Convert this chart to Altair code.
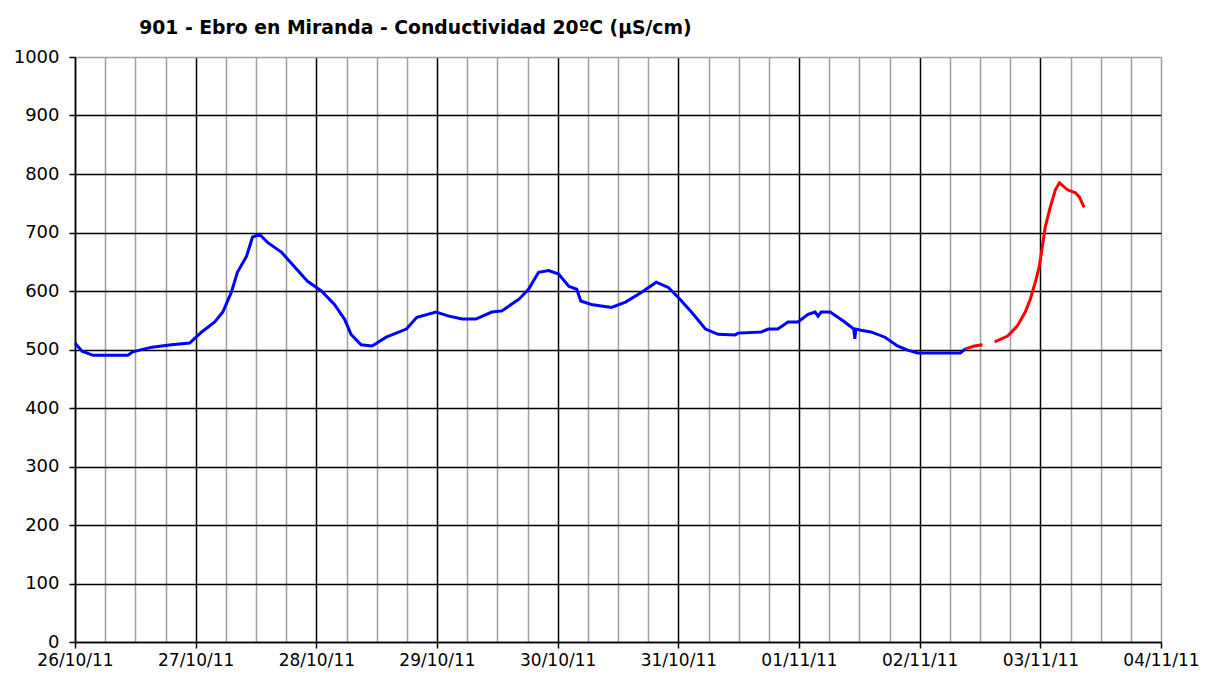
import altair as alt
import pandas as pd

TITLE = "901 - Ebro en Miranda - Conductividad 20ºC (µS/cm)"
START = pd.Timestamp("2011-10-26 00:00")
END = pd.Timestamp("2011-11-04 00:00")

# hours since 26/10/11 00:00 and conductivity values (µS/cm)
blue_hours = [0, 1.4, 3.6, 10.5, 11.5, 15.3, 19.2, 22.8, 25.2, 27.8, 29.4, 31.1, 32.3, 34.1, 35.3,
              36.7, 38.3, 41.1, 43.6, 46.2, 49.0, 51.6, 53.6, 54.9, 56.9, 59.1, 61.9, 65.9, 68.0,
              71.8, 74.4, 77.0, 79.7, 82.9, 84.9, 88.3, 90.2, 92.2, 94.2, 96.2, 98.2, 99.8, 100.6,
              102.7, 106.7, 109.5, 112.7, 115.6, 118.0, 120.0, 122.6, 125.4, 127.9, 131.3, 131.9,
              136.5, 137.9, 139.8, 141.8, 143.8, 145.8, 147.2, 147.8, 148.4, 150.2, 153.1, 154.9,
              155.1, 155.3, 156.3, 158.3, 161.1, 163.6, 165.6, 167.6, 176.1, 177.1]
blue_values = [511, 497, 490, 490, 496, 504, 508, 511, 530, 547, 564, 598, 632, 659, 692,
               697, 683, 666, 642, 617, 600, 577, 552, 526, 508, 506, 521, 535, 555,
               564, 557, 552, 552, 564, 566, 586, 603, 632, 635, 629, 608, 603, 583,
               577, 572, 581, 598, 615, 606, 589, 564, 535, 526, 525, 528,
               530, 535, 535, 547, 547, 560, 564, 557, 564, 564, 547, 535,
               518, 535, 533, 530, 521, 506, 499, 494, 494, 501]

red_hours_a = [177.1, 178.9, 180.5]
red_values_a = [501, 506, 508]
red_hours_b = [182.9, 185.5, 187.4, 189.0, 190.0, 191.0, 191.8, 192.4, 193.0, 194.0, 195.0,
               195.8, 197.4, 199.0, 199.8, 200.7]
red_values_b = [513, 523, 540, 564, 586, 615, 642, 676, 710, 744, 773, 785, 773, 768, 760, 743]

y_ticks = list(range(0, 1001, 100))

rows = []
for seg, series, hrs, vals in [
    ("b", "blue", blue_hours, blue_values),
    ("r1", "red", red_hours_a, red_values_a),
    ("r2", "red", red_hours_b, red_values_b),
]:
    for h, v in zip(hrs, vals):
        rows.append({"time": START + pd.to_timedelta(h, unit="h"), "value": v,
                     "series": series, "segment": seg})
df = pd.DataFrame(rows)

x_values = []
t = START
while t <= END:
    x_values.append(alt.DateTime(year=t.year, month=t.month, date=t.day, hours=t.hour))
    t += pd.Timedelta(hours=6)

GRAY = "#A0A0A0"

x_axis = alt.Axis(
    values=x_values,
    title=None,
    labelExpr="hours(datum.value) == 0 ? timeFormat(datum.value, '%d/%m/%y') : ''",
    labelOverlap=False,
    labelFlush=False,
    labelFont="DejaVu Sans",
    labelFontSize=17,
    labelColor="#000000",
    labelPadding=4,
    tickSize=6,
    tickWidth=1.5,
    tickColor={"condition": {"test": "hours(datum.value) == 0", "value": "#000000"},
               "value": "transparent"},
    domainColor="#000000",
    domainWidth=1.5,
    grid=True,
    gridWidth=1.5,
    gridColor={"condition": {"test": "hours(datum.value) == 0 && date(datum.value) != 4",
                             "value": "#000000"},
               "value": GRAY},
)

y_axis = alt.Axis(
    values=y_ticks,
    format="d",
    title=None,
    labelFont="DejaVu Sans",
    labelFontSize=18,
    labelColor="#000000",
    labelPadding=10,
    tickSize=6,
    tickWidth=1.5,
    tickColor="#000000",
    domainColor="#000000",
    domainWidth=1.5,
    grid=True,
    gridWidth=1.5,
    gridColor={"condition": {"test": "datum.value == 1000", "value": GRAY},
               "value": "#000000"},
)

chart = alt.Chart(df).mark_line(strokeWidth=3, interpolate="linear").encode(
    x=alt.X("time:T", axis=x_axis,
            scale=alt.Scale(domain=[alt.DateTime(year=2011, month=10, date=26),
                                    alt.DateTime(year=2011, month=11, date=4)], nice=False)),
    y=alt.Y("value:Q", axis=y_axis, scale=alt.Scale(domain=[0, 1000], nice=False)),
    color=alt.Color("series:N", scale=alt.Scale(domain=["blue", "red"],
                                                range=["#0000FF", "#FF0000"]), legend=None),
    detail="segment:N",
).properties(
    width=1086,
    height=585,
    autosize=alt.AutoSizeParams(type="none"),
    padding={"left": 67, "top": 49, "right": 39, "bottom": 27},
    title=alt.TitleParams(
        TITLE, anchor="start", dx=126, fontSize=18.8, font="DejaVu Sans",
        fontWeight="bold", color="#000000", offset=10,
    ),
).configure_view(
    fill="#CCFFFF", stroke=GRAY, strokeWidth=1.5
).configure(background="#FFFFFF")

chart.save("out.html", embed_options={"renderer": "svg", "actions": False})
